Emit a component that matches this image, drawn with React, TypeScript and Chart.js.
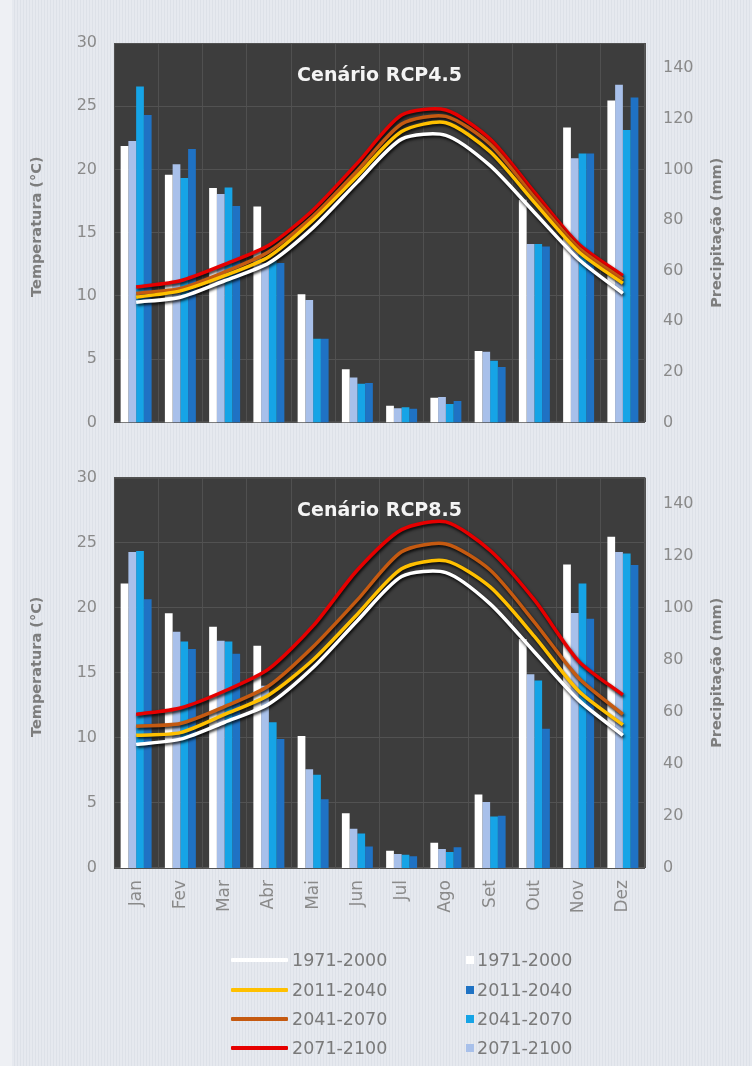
import React, { useEffect, useRef } from "react";
import { Chart, registerables } from "chart.js";

Chart.register(...registerables);

// ---------- data ----------
const months = ["Jan", "Fev", "Mar", "Abr", "Mai", "Jun", "Jul", "Ago", "Set", "Out", "Nov", "Dez"];
const periods = ["1971-2000", "2011-2040", "2041-2070", "2071-2100"];

// Temperature (°C), observed baseline
const temp1971 = [9.5, 9.9, 11.2, 12.6, 15.4, 19.0, 22.4, 22.7, 20.3, 16.6, 12.9, 10.2];
// RCP4.5 temperature
const temp45_2011 = [9.9, 10.4, 11.6, 13.1, 16.0, 19.5, 23.0, 23.7, 21.4, 17.4, 13.5, 11.0];
const temp45_2041 = [10.2, 10.6, 11.9, 13.5, 16.3, 19.9, 23.6, 24.2, 22.0, 17.8, 13.8, 11.3];
const temp45_2071 = [10.7, 11.2, 12.5, 14.0, 16.8, 20.5, 24.3, 24.7, 22.4, 18.2, 14.1, 11.6];
// RCP8.5 temperature
const temp85_2011 = [10.2, 10.4, 11.8, 13.3, 16.0, 19.5, 23.0, 23.6, 21.6, 17.8, 13.6, 11.0];
const temp85_2041 = [10.9, 11.1, 12.4, 14.0, 17.0, 20.6, 24.3, 24.9, 22.9, 18.9, 14.6, 11.8];
const temp85_2071 = [11.8, 12.3, 13.6, 15.3, 18.6, 22.9, 26.0, 26.6, 24.4, 20.6, 15.9, 13.3];

// Precipitation (mm), observed baseline
const prec1971 = [109.3, 97.9, 92.7, 85.4, 50.7, 21.0, 6.6, 9.7, 28.2, 88.0, 116.6, 127.3];
// RCP4.5 precipitation
const prec45_2011 = [121.5, 108.1, 85.6, 63.0, 33.1, 15.6, 5.4, 8.5, 21.9, 69.5, 106.3, 128.5];
const prec45_2041 = [132.8, 96.6, 92.9, 64.0, 33.1, 15.3, 6.0, 7.3, 24.4, 70.5, 106.3, 115.6];
const prec45_2071 = [111.3, 102.1, 90.3, 63.0, 48.4, 17.8, 5.6, 10.0, 27.9, 70.5, 104.4, 133.5];
// RCP8.5 precipitation
const prec85_2011 = [103.3, 84.1, 82.3, 49.6, 26.4, 8.3, 4.5, 8.0, 20.1, 53.5, 95.8, 116.4];
const prec85_2041 = [121.8, 87.0, 87.0, 56.0, 35.8, 13.3, 5.1, 6.1, 19.8, 72.0, 109.3, 120.8];
const prec85_2071 = [121.4, 90.8, 87.3, 70.0, 37.9, 15.1, 5.4, 7.3, 25.4, 74.4, 98.0, 121.4];

// ---------- styles ----------
const lineColors = ["#ffffff", "#ffc000", "#c55a11", "#e60000"];
const barColors: Record<string, string> = {
  "1971-2000": "#ffffff",
  "2011-2040": "#1f72c4",
  "2041-2070": "#16a4e6",
  "2071-2100": "#a8c0ea",
};
const FONT = "'DejaVu Sans', sans-serif";
const TICK_COLOR = "#8a8a8a";
const TITLE_COLOR = "#7d7d7d";

type Scenario = {
  title: string;
  temps: number[][];
  precs: number[][]; // in period order 1971, 2011, 2041, 2071
  showX: boolean;
  height: number;
  padTop: number;
};

function makePlugin(sc: Scenario) {
  return {
    id: "decor",
    beforeDraw(chart: any) {
      const { ctx, chartArea: a } = chart;
      ctx.save();
      ctx.fillStyle = "#3d3d3d";
      ctx.fillRect(a.left, a.top, a.right - a.left, a.bottom - a.top);
      ctx.strokeStyle = "#575757";
      ctx.lineWidth = 1;
      ctx.strokeRect(a.left + 0.5, a.top + 0.5, a.right - a.left - 1, a.bottom - a.top - 1);
      ctx.restore();
    },
    beforeDatasetDraw(chart: any, args: any) {
      const ds = chart.data.datasets[args.index];
      if (ds.type === "line") {
        const ctx = chart.ctx;
        ctx.save();
        ctx.shadowColor = "rgba(0,0,0,0.85)";
        ctx.shadowBlur = 3;
        ctx.shadowOffsetX = 1;
        ctx.shadowOffsetY = 2;
      }
    },
    afterDatasetDraw(chart: any, args: any) {
      const ds = chart.data.datasets[args.index];
      if (ds.type === "line") chart.ctx.restore();
    },
    afterDraw(chart: any) {
      const { ctx, chartArea: a } = chart;
      const cy = (a.top + a.bottom) / 2;
      ctx.save();
      // scenario title
      ctx.fillStyle = "#f4f4f4";
      ctx.font = `bold 19px ${FONT}`;
      ctx.textAlign = "center";
      ctx.textBaseline = "middle";
      ctx.fillText(sc.title, (a.left + a.right) / 2, a.top + 33);
      // axis titles (both read bottom-to-top)
      ctx.fillStyle = TITLE_COLOR;
      ctx.font = `bold 14.5px ${FONT}`;
      ctx.save();
      ctx.translate(37, cy - 6);
      ctx.rotate(-Math.PI / 2);
      ctx.fillText("Temperatura (°C)", 0, 0);
      ctx.restore();
      ctx.save();
      ctx.translate(717, cy);
      ctx.rotate(-Math.PI / 2);
      ctx.fillText("Precipitação (mm)", 0, 0);
      ctx.restore();
      ctx.restore();
    },
  };
}

function buildConfig(sc: Scenario): any {
  const lineOrder = [0, 1, 2, 3];
  const lineDatasets = sc.temps.map((d, i) => ({
    type: "line",
    label: periods[i],
    data: d,
    yAxisID: "y",
    borderColor: lineColors[i],
    backgroundColor: lineColors[i],
    borderWidth: 3.5,
    pointRadius: 0,
    tension: 0.25,
    order: lineOrder[i],
  }));
  // visual order inside each month: 1971, 2071, 2041, 2011
  const barIdx = [0, 3, 2, 1];
  const barDatasets = barIdx.map((pi) => ({
    type: "bar",
    label: periods[pi],
    data: sc.precs[pi],
    yAxisID: "y1",
    backgroundColor: barColors[periods[pi]],
    borderWidth: 0,
    barPercentage: 1.0,
    categoryPercentage: 0.7,
    order: 10,
  }));
  return {
    type: "bar",
    data: { labels: months, datasets: [...barDatasets, ...lineDatasets] },
    plugins: [makePlugin(sc)],
    options: {
      responsive: false,
      animation: false,
      layout: { padding: { left: 26, right: 22, top: sc.padTop, bottom: 12 } },
      plugins: { legend: { display: false }, tooltip: { enabled: false }, title: { display: false } },
      scales: {
        x: {
          grid: { color: "#505050", offset: true, drawTicks: false },
          border: { display: false },
          ticks: {
            display: sc.showX,
            color: TICK_COLOR,
            font: { family: FONT, size: 17 },
            minRotation: 90,
            maxRotation: 90,
            padding: 12,
            autoSkip: false,
          },
          afterFit(s: any) {
            s.height = sc.showX ? 70 : 0;
          },
        },
        y: {
          position: "left",
          min: 0,
          max: 30,
          ticks: { stepSize: 5, color: TICK_COLOR, font: { family: FONT, size: 16 }, padding: 17 },
          grid: { color: "#525252", drawTicks: false },
          border: { display: false },
          afterFit(s: any) {
            s.width = 88;
          },
        },
        y1: {
          position: "right",
          min: 0,
          max: 150,
          ticks: {
            stepSize: 20,
            color: TICK_COLOR,
            font: { family: FONT, size: 16 },
            padding: 18,
            callback: (v: number) => (v > 140 ? "" : String(v)),
          },
          grid: { display: false, drawTicks: false },
          border: { display: false },
          afterFit(s: any) {
            s.width = 85;
          },
        },
      },
    },
  };
}

const scenarios: Scenario[] = [
  {
    title: "Cenário RCP4.5",
    temps: [temp1971, temp45_2011, temp45_2041, temp45_2071],
    precs: [prec1971, prec45_2011, prec45_2041, prec45_2071],
    showX: false,
    height: 450,
    padTop: 43,
  },
  {
    title: "Cenário RCP8.5",
    temps: [temp1971, temp85_2011, temp85_2041, temp85_2071],
    precs: [prec1971, prec85_2011, prec85_2041, prec85_2071],
    showX: true,
    height: 500,
    padTop: 23,
  },
];

function ClimateChart({ sc }: { sc: Scenario }) {
  const ref = useRef<HTMLCanvasElement | null>(null);
  useEffect(() => {
    if (!ref.current) return;
    const chart = new Chart(ref.current, buildConfig(sc));
    return () => chart.destroy();
  }, [sc]);
  return <canvas ref={ref} width={752} height={sc.height} style={{ display: "block", width: 752, height: sc.height }} />;
}

const legendRows = [960, 990, 1019, 1048];

export default function App() {
  return (
    <div
      style={{
        position: "absolute",
        left: 0,
        top: 0,
        width: 752,
        height: 1066,
        overflow: "hidden",
        background: "repeating-linear-gradient(90deg, #e6e9ef 0px, #e6e9ef 2px, #dde1e8 2px, #dde1e8 3px)",
        fontFamily: FONT,
      }}
    >
      <div style={{ position: "absolute", left: 0, top: 0, width: 12, height: 1066, background: "#eef0f4" }} />
      <div style={{ position: "absolute", left: 0, top: 0 }}>
        <ClimateChart sc={scenarios[0]} />
        <ClimateChart sc={scenarios[1]} />
      </div>
      {periods.map((p, i) => (
        <React.Fragment key={p}>
          <div
            style={{
              position: "absolute",
              left: 231,
              top: legendRows[i] - 2,
              width: 57,
              height: 4,
              background: lineColors[i],
              borderRadius: 1,
            }}
          />
          <div
            style={{
              position: "absolute",
              left: 292,
              top: legendRows[i] - 11,
              fontSize: 17.5,
              lineHeight: "22px",
              color: "#7a7a7a",
              whiteSpace: "nowrap",
            }}
          >
            {p}
          </div>
          <div
            style={{
              position: "absolute",
              left: 466,
              top: legendRows[i] - 4,
              width: 8,
              height: 8,
              background: barColors[p],
            }}
          />
          <div
            style={{
              position: "absolute",
              left: 477,
              top: legendRows[i] - 11,
              fontSize: 17.5,
              lineHeight: "22px",
              color: "#7a7a7a",
              whiteSpace: "nowrap",
            }}
          >
            {p}
          </div>
        </React.Fragment>
      ))}
    </div>
  );
}
